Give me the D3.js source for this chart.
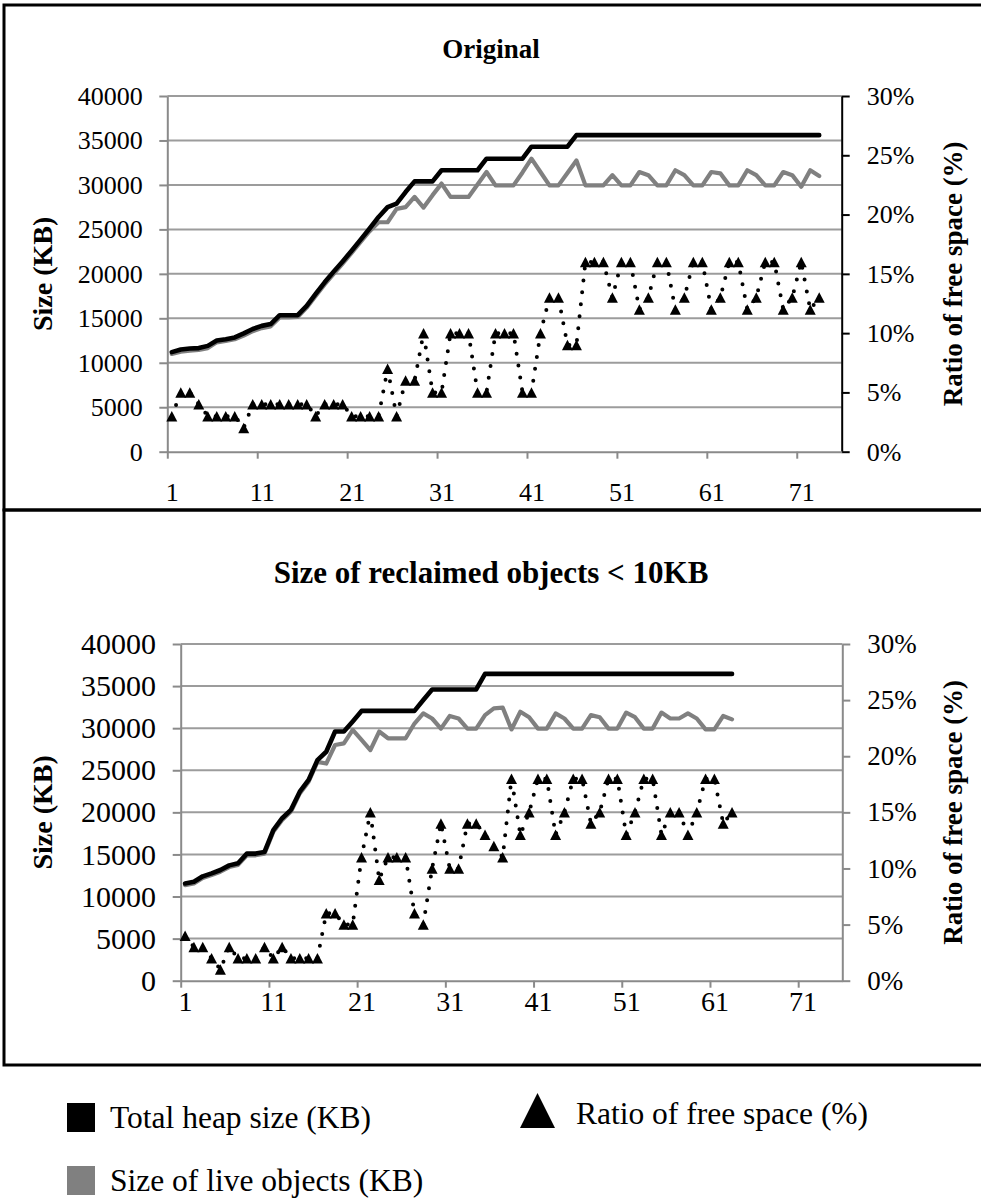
<!DOCTYPE html>
<html>
<head>
<meta charset="utf-8">
<script src="https://cdn.jsdelivr.net/npm/d3@7"></script>
<style>
  html, body { margin: 0; padding: 0; background: #fff; }
  svg, svg text { font-family: "Liberation Serif", Tinos, "Times New Roman", Times, "DejaVu Serif", serif; }
</style>
</head>
<body>
<svg id="chart" width="981" height="1198"></svg>
<script>
// ---- x categories (GC cycles) and tick values ----
const categories = d3.range(1, 76);
const xTickLabels = [1, 11, 21, 31, 41, 51, 61, 71];
const sizeTicks = [0, 5000, 10000, 15000, 20000, 25000, 30000, 35000, 40000];
const ratioTicks = [0, 5, 10, 15, 20, 25, 30];

// ---- panel 1: Original ----
const originalTotalHeap = [
  11200, 11500, 11600, 11650, 11900, 12500, 12650, 12850, 13300, 13800,
  14150, 14350, 15350, 15350, 15350, 16400, 17750, 19050, 20250, 21400,
  22600, 23850, 25100, 26400, 27500, 27900, 29200, 30400, 30400, 30400,
  31650, 31650, 31650, 31650, 31650, 32950, 32950, 32950, 32950, 32950,
  34300, 34300, 34300, 34300, 34300, 35600, 35600, 35600, 35600, 35600,
  35600, 35600, 35600, 35600, 35600, 35600, 35600, 35600, 35600, 35600,
  35600, 35600, 35600, 35600, 35600, 35600, 35600, 35600, 35600, 35600,
  35600, 35600, 35600
];
const originalLiveSize = [
  11000, 11250, 11350, 11450, 11650, 12300, 12450, 12650, 13050, 13550,
  13900, 14100, 15100, 15100, 15150, 16200, 17500, 18800, 20000, 21150,
  22350, 23600, 24800, 25800, 25800, 27300, 27500, 28650, 27450, 28850,
  30150, 28650, 28650, 28650, 30050, 31450, 29950, 29950, 29950, 31400,
  32950, 31450, 29950, 29950, 31350, 32750, 29950, 29950, 29950, 31100,
  29950, 29950, 31450, 31100, 29950, 29950, 31650, 31100, 29950, 29950,
  31450, 31300, 29950, 29950, 31650, 31100, 29950, 29950, 31450, 31100,
  29800, 31650, 31000
];
const originalFreeRatio = [
  3, 5, 5, 4, 3, 3, 3, 3, 2, 4,
  4, 4, 4, 4, 4, 4, 3, 4, 4, 4,
  3, 3, 3, 3, 7, 3, 6, 6, 10, 5,
  5, 10, 10, 10, 5, 5, 10, 10, 10, 5,
  5, 10, 13, 13, 9, 9, 16, 16, 16, 13,
  16, 16, 12, 13, 16, 16, 12, 13, 16, 16,
  12, 13, 16, 16, 12, 13, 16, 16, 12, 13,
  16, 12, 13
];

// ---- panel 2: Size of reclaimed objects < 10KB ----
const reclaimedTotalHeap = [
  11550, 11750, 12400, 12750, 13150, 13700, 13950, 15100, 15100, 15300,
  17900, 19300, 20300, 22450, 23850, 26200, 27200, 29600, 29600, 30800,
  32050, 32050, 32050, 32050, 32050, 32050, 32050, 33350, 34600, 34600,
  34600, 34600, 34600, 34600, 36450, 36450, 36450, 36450, 36450, 36450,
  36450, 36450, 36450, 36450, 36450, 36450, 36450, 36450, 36450, 36450,
  36450, 36450, 36450, 36450, 36450, 36450, 36450, 36450, 36450, 36450,
  36450, 36450, 36450
];
const reclaimedLiveSize = [
  11350, 11550, 12200, 12550, 12950, 13500, 13750, 14900, 14900, 15100,
  17700, 19100, 20100, 22250, 23650, 26000, 25800, 28000, 28200, 29800,
  28600, 27400, 29600, 28800, 28800, 28800, 30550, 31750, 31150, 29950,
  31450, 31150, 29950, 29950, 31550, 32350, 32450, 29850, 31950, 31300,
  29950, 29950, 31750, 31150, 29950, 29950, 31550, 31300, 29950, 29950,
  31850, 31300, 29950, 29950, 31850, 31150, 31150, 31750, 31150, 29850,
  29850, 31450, 31050
];
const reclaimedFreeRatio = [
  4, 3, 3, 2, 1, 3, 2, 2, 2, 3,
  2, 3, 2, 2, 2, 2, 6, 6, 5, 5,
  11, 15, 9, 11, 11, 11, 6, 5, 10, 14,
  10, 10, 14, 14, 13, 12, 11, 18, 13, 15,
  18, 18, 13, 15, 18, 18, 14, 15, 18, 18,
  13, 15, 18, 18, 13, 15, 15, 13, 15, 18,
  18, 14, 15
];

// ---- legend entries ----
const legendItems = [
  { label: "Total heap size (KB)", kind: "square", color: "#000" },
  { label: "Ratio of free space (%)", kind: "triangle", color: "#000" },
  { label: "Size of live objects (KB)", kind: "square", color: "#808080" }
];

const FONT = '"Liberation Serif", Tinos, "Times New Roman", Times, "DejaVu Serif", serif';
const svg = d3.select("#chart").style("font-family", FONT);
svg.append("rect").attr("width", 981).attr("height", 1198).attr("fill", "#fff");

const GRID = "#9c9c9c";
const AXIS = "#8a8a8a";

const panels = [
  {
    title: "Original", titleY: 58, titleSize: 27,
    frameY: 5, frameH: 505,
    x0: 167.3, x1: 841.7, yTop: 96, yBot: 451.7,
    rightAxisColor: "#000",
    heap: originalTotalHeap, live: originalLiveSize, ratio: originalFreeRatio,
    leftLabelX: 142.7, xLabelBaseline: 501,
    leftFont: 26, rightFont: 26, xFont: 26
  },
  {
    title: "Size of reclaimed objects < 10KB", titleY: 583, titleSize: 31,
    frameY: 510, frameH: 555,
    x0: 180.7, x1: 842.3, yTop: 644, yBot: 980.7,
    rightAxisColor: AXIS,
    heap: reclaimedTotalHeap, live: reclaimedLiveSize, ratio: reclaimedFreeRatio,
    leftLabelX: 156, xLabelBaseline: 1011,
    leftFont: 30, rightFont: 27, xFont: 28
  }
];

// triangle marker centred on its data point
function trianglePath(w, h) {
  return `M0,${-h / 2}L${w / 2},${h / 2}L${-w / 2},${h / 2}Z`;
}

function styleTickText(sel, size) {
  sel.attr("font-size", size).attr("fill", "#000").style("font-family", FONT);
}

panels.forEach(p => {
  const g = svg.append("g");

  // panel frame
  g.append("rect")
    .attr("x", 4).attr("y", p.frameY)
    .attr("width", 1000).attr("height", p.frameH)
    .attr("fill", "none").attr("stroke", "#000").attr("stroke-width", 3);

  // title
  g.append("text")
    .attr("x", 491).attr("y", p.titleY)
    .attr("text-anchor", "middle")
    .attr("font-weight", "bold").attr("font-size", p.titleSize)
    .style("font-family", FONT)
    .text(p.title);

  // scales
  const x = d3.scalePoint().domain(categories).range([p.x0, p.x1]).padding(0.5);
  const xEdge = d3.scaleLinear().domain([0.5, categories.length + 0.5]).range([p.x0, p.x1]);
  const yL = d3.scaleLinear().domain([0, 40000]).range([p.yBot, p.yTop]);
  const yR = d3.scaleLinear().domain([0, 30]).range([p.yBot, p.yTop]);

  // gridlines
  g.append("g").selectAll("line").data(sizeTicks.slice(1)).join("line")
    .attr("x1", p.x0).attr("x2", p.x1)
    .attr("y1", d => yL(d)).attr("y2", d => yL(d))
    .attr("stroke", GRID).attr("stroke-width", 2);

  // left axis
  const leftAxis = g.append("g").attr("transform", `translate(${p.x0},0)`)
    .call(d3.axisLeft(yL).tickValues(sizeTicks).tickSize(8).tickSizeOuter(0)
      .tickFormat(d3.format("d"))
      .tickPadding(p.x0 - p.leftLabelX - 8));
  leftAxis.attr("font-family", null);
  leftAxis.select(".domain").attr("stroke", AXIS).attr("stroke-width", 2);
  leftAxis.selectAll(".tick line").attr("stroke", AXIS).attr("stroke-width", 2);
  styleTickText(leftAxis.selectAll("text"), p.leftFont);

  // right axis
  const rightAxis = g.append("g").attr("transform", `translate(${p.x1},0)`)
    .call(d3.axisRight(yR).tickValues(ratioTicks).tickSize(8).tickSizeOuter(0)
      .tickPadding(17).tickFormat(d => d + "%"));
  rightAxis.attr("font-family", null);
  rightAxis.select(".domain").attr("stroke", p.rightAxisColor).attr("stroke-width", 2);
  rightAxis.selectAll(".tick line").attr("stroke", p.rightAxisColor).attr("stroke-width", 2);
  styleTickText(rightAxis.selectAll("text"), p.rightFont);

  // bottom axis: tick marks between categories, labels at category centres
  const xAxisTicks = g.append("g").attr("transform", `translate(0,${p.yBot})`)
    .call(d3.axisBottom(xEdge).tickValues(xTickLabels.map(k => k - 0.5))
      .tickSize(7).tickSizeOuter(0).tickFormat(""));
  xAxisTicks.select(".domain").attr("stroke", AXIS).attr("stroke-width", 2);
  xAxisTicks.selectAll(".tick line").attr("stroke", AXIS).attr("stroke-width", 2);

  const xAxisLabels = g.append("g").attr("transform", `translate(0,${p.yBot})`)
    .call(d3.axisBottom(x).tickValues(xTickLabels).tickSize(0)
      .tickPadding(p.xLabelBaseline - p.yBot - p.xFont * 0.71));
  xAxisLabels.attr("font-family", null);
  xAxisLabels.select(".domain").remove();
  styleTickText(xAxisLabels.selectAll("text"), p.xFont);

  // axis titles
  const midY = (p.yTop + p.yBot) / 2;
  g.append("text")
    .attr("transform", `translate(42,${midY}) rotate(-90)`)
    .attr("text-anchor", "middle").attr("dominant-baseline", "central")
    .attr("font-weight", "bold").attr("font-size", 28)
    .style("font-family", FONT)
    .text("Size (KB)");
  g.append("text")
    .attr("transform", `translate(953,${midY}) rotate(-90)`)
    .attr("text-anchor", "middle").attr("dominant-baseline", "central")
    .attr("font-weight", "bold").attr("font-size", 27)
    .style("font-family", FONT)
    .text("Ratio of free space (%)");

  // series lines
  const lineL = d3.line().x((d, i) => x(categories[i])).y(d => yL(d));
  const lineR = d3.line().x((d, i) => x(categories[i])).y(d => yR(d));

  g.append("path").datum(p.live).attr("d", lineL)
    .attr("fill", "none").attr("stroke", "#808080").attr("stroke-width", 4.2)
    .attr("stroke-linejoin", "round").attr("stroke-linecap", "round");
  g.append("path").datum(p.heap).attr("d", lineL)
    .attr("fill", "none").attr("stroke", "#000").attr("stroke-width", 4.6)
    .attr("stroke-linejoin", "round").attr("stroke-linecap", "round");

  g.append("path").datum(p.ratio).attr("d", lineR)
    .attr("fill", "none").attr("stroke", "#000").attr("stroke-width", 4)
    .attr("stroke-dasharray", "0 12").attr("stroke-linecap", "round");

  g.append("g").selectAll("path").data(p.ratio).join("path")
    .attr("d", trianglePath(11, 10.5))
    .attr("transform", (d, i) => `translate(${x(categories[i])},${yR(d)})`)
    .attr("fill", "#000");
});

// legend
const legend = svg.append("g").attr("font-size", 31.5).style("font-family", FONT);
const legendPos = [
  { x: 67, y: 1103, tx: 110, ty: 1128 },
  { x: 520, y: 1093, tx: 576, ty: 1124 },
  { x: 67, y: 1166, tx: 110, ty: 1191 }
];
legendItems.forEach((item, i) => {
  const pos = legendPos[i];
  if (item.kind === "square") {
    legend.append("rect").attr("x", pos.x).attr("y", pos.y)
      .attr("width", 28).attr("height", 29).attr("fill", item.color);
  } else {
    legend.append("path")
      .attr("d", trianglePath(35, 35))
      .attr("transform", `translate(${pos.x + 17.5},${pos.y + 17.5})`)
      .attr("fill", item.color);
  }
  legend.append("text").attr("x", pos.tx).attr("y", pos.ty).text(item.label);
});
</script>
</body>
</html>
